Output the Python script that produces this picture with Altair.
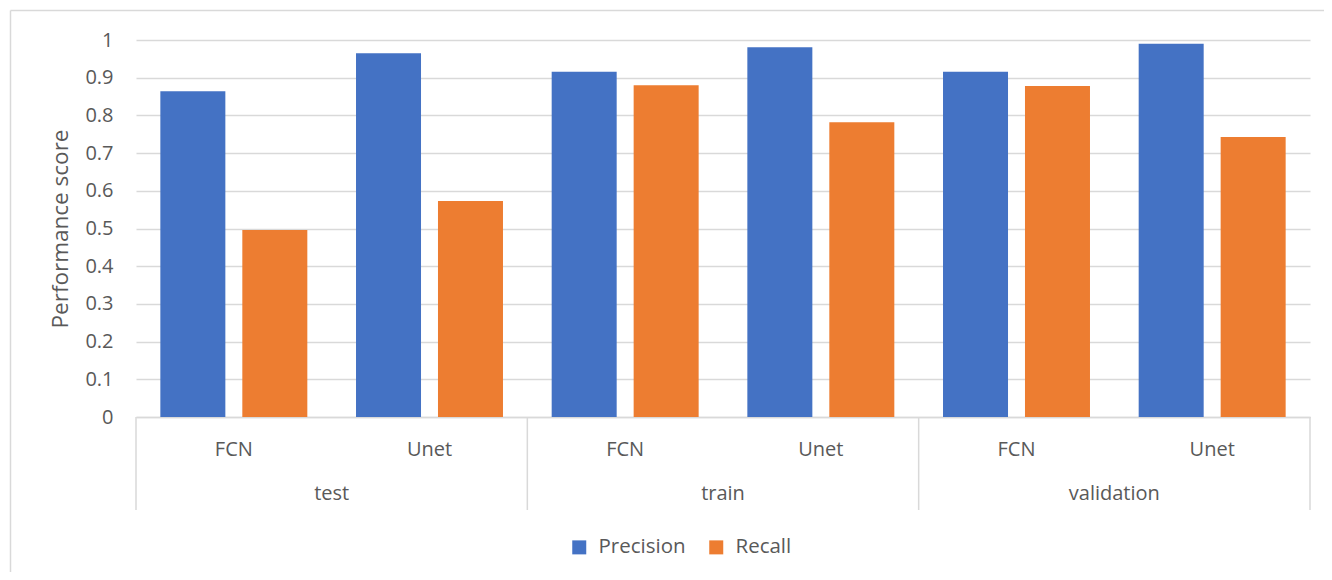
import altair as alt
import pandas as pd

splits = ["test", "test", "train", "train", "validation", "validation"]
models = ["FCN", "Unet", "FCN", "Unet", "FCN", "Unet"]
precision = [0.864, 0.965, 0.916, 0.981, 0.916, 0.990]
recall = [0.496, 0.573, 0.880, 0.782, 0.878, 0.743]
series_names = ["Precision", "Recall"]
colors = ["#4472C4", "#ED7D31"]

rows = []
for s, m, p, r in zip(splits, models, precision, recall):
    rows.append({"group": s, "model": m, "key": f"{s}|{m}", "series": "Precision", "value": p})
    rows.append({"group": s, "model": m, "key": f"{s}|{m}", "series": "Recall", "value": r})
df = pd.DataFrame(rows)
key_order = [f"{s}|{m}" for s, m in zip(splits, models)]

W, H = 1174, 377
FONT = "Open Sans"
GRAY = "#595959"
LINE = "#d9d9d9"

xscale = alt.Scale(domain=key_order, paddingInner=0, paddingOuter=0)

base = alt.Chart(df)

bars = base.mark_bar().encode(
    x=alt.X("key:N", scale=xscale, sort=key_order,
            axis=alt.Axis(title=None, labelExpr="split(datum.label, '|')[1]",
                          labelAngle=0, ticks=False, domainColor=LINE, domainWidth=1.5,
                          labelPadding=32, labelBaseline="middle", labelFontSize=20,
                          labelColor=GRAY, labelFont=FONT)),
    xOffset=alt.XOffset("series:N", sort=series_names,
                        scale=alt.Scale(paddingInner=0.207, paddingOuter=0.297)),
    y=alt.Y("value:Q", scale=alt.Scale(domain=[0, 1], nice=False),
            axis=alt.Axis(title="Performance score", values=[i / 10 for i in range(11)],
                          format="~g", domain=False, ticks=False, labelPadding=23,
                          gridColor=LINE, gridWidth=1.5, labelFontSize=20, labelColor=GRAY,
                          labelFont=FONT, titleFont=FONT, titleFontSize=22.5,
                          titleFontWeight="normal", titleColor=GRAY, titlePadding=12)),
    color=alt.Color("series:N", sort=series_names,
                    scale=alt.Scale(domain=series_names, range=colors),
                    legend=alt.Legend(title=None, orient="none", direction="horizontal",
                                      legendX=433, legendY=497, symbolType="square",
                                      symbolSize=196, symbolStrokeWidth=0, labelFontSize=20.5,
                                      labelColor=GRAY, labelFont=FONT, labelOffset=9,
                                      columnPadding=20, padding=0)),
)

sep = base.transform_filter(
    "datum.series == 'Precision' && datum.model == 'FCN'"
).mark_rule(color=LINE, strokeWidth=1.5).encode(
    x=alt.X("key:N", scale=xscale, sort=key_order, bandPosition=0),
    y=alt.value(H), y2=alt.value(H + 93),
)
sep_end = base.transform_filter(
    "datum.key == 'validation|Unet' && datum.series == 'Precision'"
).mark_rule(color=LINE, strokeWidth=1.5).encode(
    x=alt.X("key:N", scale=xscale, sort=key_order, bandPosition=1),
    y=alt.value(H), y2=alt.value(H + 93),
)
group_text = base.transform_filter(
    "datum.series == 'Precision' && datum.model == 'Unet'"
).mark_text(fontSize=20, color=GRAY, font=FONT, baseline="middle").encode(
    x=alt.X("key:N", scale=xscale, sort=key_order, bandPosition=0),
    y=alt.value(H + 77),
    text="group:N",
)

frame = alt.Chart(alt.Data(values=[{"a": 1}]))
border_v = frame.mark_rule(color=LINE, strokeWidth=1.5).encode(
    x=alt.value(-125.5), y=alt.value(-29.5), y2=alt.value(700))
border_h = frame.mark_rule(color=LINE, strokeWidth=1.5).encode(
    x=alt.value(-125.5), x2=alt.value(1400), y=alt.value(-29.5))

chart = alt.layer(border_v, border_h, bars, sep, sep_end, group_text).properties(
    width=W, height=H,
    autosize=alt.AutoSizeParams(type="none"),
    padding={"left": 128, "top": 32, "right": 14, "bottom": 155},
).configure_view(stroke=None).configure_axis(labelFont=FONT)

chart.save("out.html", embed_options={"renderer": "svg", "actions": False})
